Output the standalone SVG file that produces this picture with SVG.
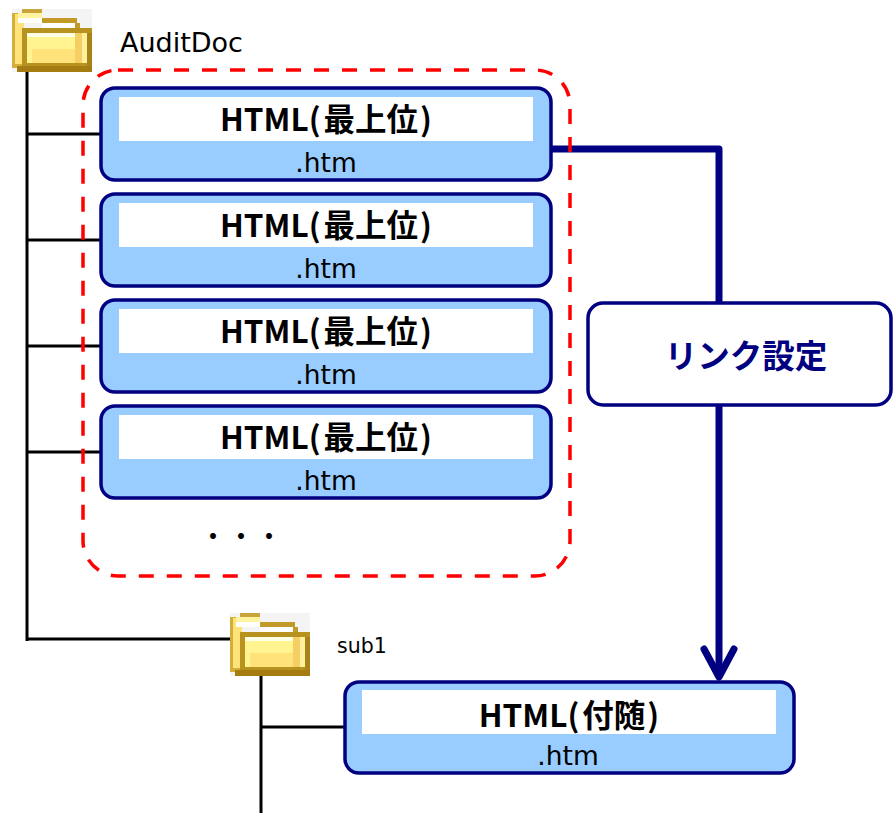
<svg xmlns="http://www.w3.org/2000/svg" width="893" height="813" viewBox="0 0 893 813">
<defs>
<style>
.tree{stroke:#000;stroke-width:3;fill:none}
.link{stroke:#000080;stroke-width:7;fill:none;stroke-linejoin:round}
.node{fill:#99CCFF;stroke:#000080;stroke-width:3.5}
.band{fill:#FFFFFF}
.title{font-family:"Noto Sans CJK JP","Noto Sans",sans-serif;font-weight:bold;font-size:31.5px;fill:#000;text-anchor:middle}
.ext{font-family:"DejaVu Sans",sans-serif;font-size:26.5px;fill:#000;text-anchor:middle}
.label{font-family:"DejaVu Sans",sans-serif;fill:#000}
</style>
<symbol id="folder" viewBox="0 0 80 63" width="80" height="63">
<rect x="0" y="0" width="80" height="63" fill="#F4F4F4"/>
<rect x="10" y="0" width="20" height="5" fill="#C9A43A"/>
<rect x="0" y="4" width="12" height="55" fill="#D4AE3A"/>
<rect x="3" y="5" width="9" height="50" fill="#FFE27A"/>
<rect x="6" y="4" width="24" height="5" fill="#FFF3A0"/>
<rect x="6" y="9" width="24" height="5" fill="#FFFFFF"/>
<rect x="30" y="9" width="35" height="5" fill="#C29A28"/>
<rect x="30" y="14" width="33" height="5" fill="#FFFFFF"/>
<rect x="63" y="14" width="5" height="6" fill="#C29A28"/>
<rect x="10" y="19" width="70" height="40" fill="#B8921E"/>
<rect x="15" y="24" width="60" height="30" fill="#FFF48F"/>
<rect x="15" y="24" width="50" height="4" fill="#FFFFE6"/>
<rect x="20" y="40" width="45" height="14" fill="#FFE27A"/>
<rect x="63" y="24" width="7" height="30" fill="#F6CF62"/>
<rect x="70" y="24" width="5" height="30" fill="#FFF0A0"/>
<rect x="75" y="24" width="5" height="35" fill="#A88418"/>
<rect x="5" y="57" width="75" height="6" fill="#A57C12"/>
</symbol>
</defs>
<rect width="893" height="813" fill="#FFFFFF"/>

<g id="connectors">
<path class="tree" d="M27,72 V641 M27,134 H101 M27,240 H101 M27,346 H101 M27,452 H101 M27,639 H230"/>
<path class="tree" d="M261,676 V813 M261,727 H345"/>
<path class="link" d="M551,149 H719 V303"/>
<path class="link" d="M719,405 V676"/>
<path class="link" d="M704,649 L719,677 L734,649" stroke-linecap="round"/>
</g>

<g id="group-frame">
<rect x="83" y="70" width="487" height="506" rx="35" fill="none" stroke="#FF0000" stroke-width="3.5" stroke-dasharray="15 13"/>
<text x="199" y="547" font-family="Noto Sans CJK JP,sans-serif" font-size="28" fill="#000">・・・</text>
</g>

<g id="folder-auditdoc">
<use href="#folder" x="12" y="9"/>
<text class="label" x="120" y="52" font-size="27">AuditDoc</text>
</g>

<g id="folder-sub1">
<use href="#folder" x="230" y="613"/>
<text class="label" x="337" y="653" font-size="20.5">sub1</text>
</g>

<g id="node-html1">
<rect class="node" x="101" y="88" width="450" height="92" rx="14"/>
<rect class="band" x="119" y="97" width="414" height="44"/>
<text class="title" x="326" y="131" dx="0 0 0 0 0 3 0 0 2">HTML(最上位)</text>
<text class="ext" x="326" y="172">.htm</text>
</g>

<g id="node-html2">
<rect class="node" x="101" y="194" width="450" height="92" rx="14"/>
<rect class="band" x="119" y="203" width="414" height="44"/>
<text class="title" x="326" y="237" dx="0 0 0 0 0 3 0 0 2">HTML(最上位)</text>
<text class="ext" x="326" y="278">.htm</text>
</g>

<g id="node-html3">
<rect class="node" x="101" y="300" width="450" height="92" rx="14"/>
<rect class="band" x="119" y="309" width="414" height="44"/>
<text class="title" x="326" y="343" dx="0 0 0 0 0 3 0 0 2">HTML(最上位)</text>
<text class="ext" x="326" y="384">.htm</text>
</g>

<g id="node-html4">
<rect class="node" x="101" y="406" width="450" height="92" rx="14"/>
<rect class="band" x="119" y="415" width="414" height="44"/>
<text class="title" x="326" y="449" dx="0 0 0 0 0 3 0 0 2">HTML(最上位)</text>
<text class="ext" x="326" y="490">.htm</text>
</g>

<g id="node-link">
<rect x="588" y="303" width="303" height="102" rx="15" fill="#FFFFFF" stroke="#000080" stroke-width="3.5"/>
<text x="746" y="368" font-family="Noto Sans CJK JP,sans-serif" font-weight="bold" font-size="32.5" fill="#000080" text-anchor="middle">リンク設定</text>
</g>

<g id="node-html-sub">
<rect class="node" x="345" y="682" width="449" height="91" rx="14"/>
<rect class="band" x="362" y="690" width="414" height="44"/>
<text class="title" x="569" y="727" dx="0 0 0 0 0 3 0 2">HTML(付随)</text>
<text class="ext" x="568" y="765">.htm</text>
</g>
</svg>
